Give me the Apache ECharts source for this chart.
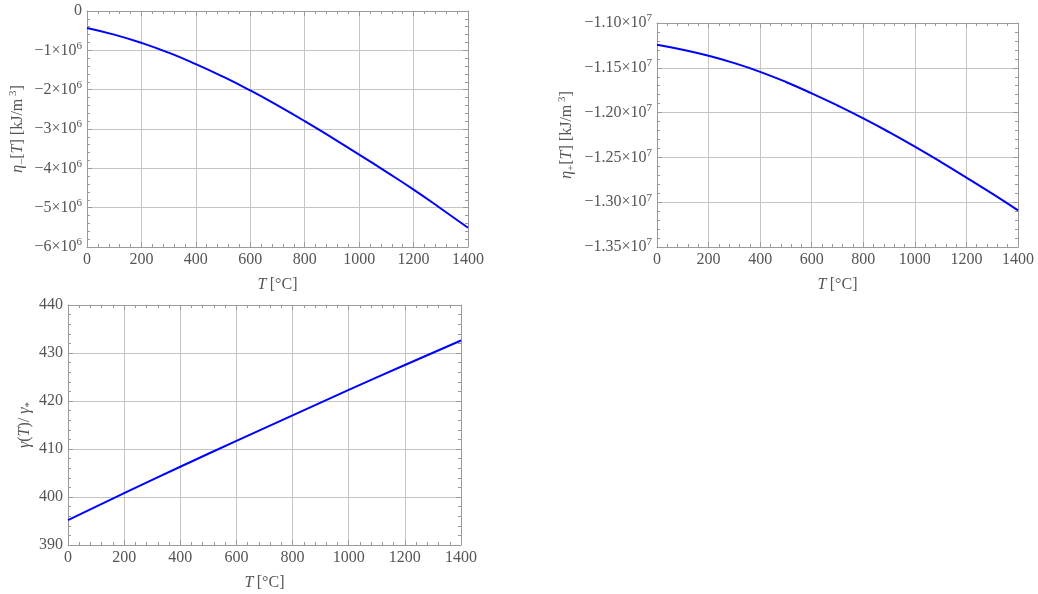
<!DOCTYPE html>
<html>
<head>
<meta charset="utf-8">
<script src="https://cdn.jsdelivr.net/npm/echarts@6/dist/echarts.min.js"></script>
<style>
html,body{margin:0;padding:0;background:#fff;}
#c{width:1038px;height:594px;}
</style>
</head>
<body>
<div id="c"></div>
<script>
// ---- data ----
const T100 = [0,100,200,300,400,500,600,700,800,900,1000,1100,1200,1300,1400];
const etaMinus = [-0.43e6,-0.60e6,-0.81e6,-1.06e6,-1.35e6,-1.67e6,-2.02e6,-2.40e6,-2.80e6,-3.22e6,-3.65e6,-4.09e6,-4.54e6,-5.02e6,-5.51e6];
const etaPlus = [-1.1242e7,-1.1298e7,-1.1366e7,-1.1448e7,-1.1545e7,-1.1658e7,-1.1785e7,-1.1921e7,-1.2065e7,-1.2218e7,-1.2380e7,-1.2549e7,-1.2725e7,-1.2905e7,-1.3091e7];
const T200 = [0,200,400,600,800,1000,1200,1400];
const gammaRatio = [395.2,400.8,406.3,411.7,417.0,422.3,427.5,432.6];
const xTicks = [0,200,400,600,800,1000,1200,1400];

const FONT = 'Liberation Serif';
const TXT = '#555';
const FRAME = '#9a9a9a';
const GRIDC = '#c4c4c4';

const rich = {
  a:{fontFamily:FONT,fontSize:16,color:TXT,lineHeight:20},
  s:{fontFamily:FONT,fontSize:11,color:TXT,verticalAlign:'top',lineHeight:20},
  i:{fontFamily:FONT,fontSize:16,color:TXT,fontStyle:'italic',lineHeight:20},
  sub:{fontFamily:FONT,fontSize:11,color:TXT,verticalAlign:'bottom',lineHeight:18},
  sup:{fontFamily:FONT,fontSize:11,color:TXT,verticalAlign:'top',lineHeight:20}
};

const grids = [
  {left:87, top:11, width:381, height:236},
  {left:657, top:23, width:361, height:224},
  {left:68, top:305, width:393, height:240}
];

function xAxes(gi){
  return [
    {type:'value',gridIndex:gi,min:0,max:1400,interval:200,position:'bottom',
     name:'{i|T} {a|[°C]}',nameLocation:'middle',nameGap:28,nameTextStyle:{rich:rich},
     axisLine:{show:true,onZero:false,lineStyle:{color:FRAME}},
     axisTick:{show:true,inside:true,length:5,lineStyle:{color:FRAME}},
     minorTick:{show:true,splitNumber:5,length:3,lineStyle:{color:FRAME}},
     axisLabel:{fontFamily:FONT,fontSize:16,color:TXT,margin:5,showMinLabel:true,showMaxLabel:true,
                formatter:v=>String(v)},
     splitLine:{show:true,lineStyle:{color:GRIDC,width:1}}},
    {type:'value',gridIndex:gi,min:0,max:1400,interval:200,position:'top',
     axisLine:{show:true,onZero:false,lineStyle:{color:FRAME}},
     axisTick:{show:true,inside:true,length:5,lineStyle:{color:FRAME}},
     minorTick:{show:true,splitNumber:5,length:3,lineStyle:{color:FRAME}},
     axisLabel:{show:false},splitLine:{show:false}}
  ];
}
function yAxes(gi,min,max,interval,fmt,name,gap){
  return [
    {type:'value',gridIndex:gi,min:min,max:max,interval:interval,position:'left',
     name:name,nameLocation:'middle',nameGap:gap,nameRotate:90,nameTextStyle:{rich:rich},
     axisLine:{show:true,onZero:false,lineStyle:{color:FRAME}},
     axisTick:{show:true,inside:true,length:5,lineStyle:{color:FRAME}},
     minorTick:{show:true,splitNumber:5,length:3,lineStyle:{color:FRAME}},
     axisLabel:{formatter:fmt,rich:rich,margin:5,fontFamily:FONT,fontSize:16,color:TXT},
     splitLine:{show:true,lineStyle:{color:GRIDC,width:1}}},
    {type:'value',gridIndex:gi,min:min,max:max,interval:interval,position:'right',
     axisLine:{show:true,onZero:false,lineStyle:{color:FRAME}},
     axisTick:{show:true,inside:true,length:5,lineStyle:{color:FRAME}},
     minorTick:{show:true,splitNumber:5,length:3,lineStyle:{color:FRAME}},
     axisLabel:{show:false},splitLine:{show:false}}
  ];
}

const fmt1 = v => v===0 ? '{a|0}' : '{a|−'+Math.round(-v/1e6)+'×10}{s|6}';
const fmt2 = v => '{a|−'+(-v/1e7).toFixed(2)+'×10}{s|7}';
const fmt3 = v => '{a|'+v+'}';

const option = {
  animation:false,
  backgroundColor:'#fff',
  grid:grids,
  xAxis:[...xAxes(0),...xAxes(1),...xAxes(2)],
  yAxis:[
    ...yAxes(0,-6e6,0,1e6,fmt1,'{i|η}{sub|−}{a|[}{i|T}{a|] [kJ/m}{sup| 3}{a|]}',59),
    ...yAxes(1,-1.35e7,-1.10e7,5e5,fmt2,'{i|η}{sub|+}{a|[}{i|T}{a|] [kJ/m}{sup| 3}{a|]}',80),
    ...yAxes(2,390,440,10,fmt3,'{i|γ}{a|(}{i|T}{a|)/ }{i|γ}{sub|*}',32)
  ],
  series:[
    {type:'line',xAxisIndex:0,yAxisIndex:0,data:T100.map((t,k)=>[t,etaMinus[k]]),smooth:true,showSymbol:false,lineStyle:{color:'#0000ff',width:2}},
    {type:'line',xAxisIndex:2,yAxisIndex:2,data:T100.map((t,k)=>[t,etaPlus[k]]),smooth:true,showSymbol:false,lineStyle:{color:'#0000ff',width:2}},
    {type:'line',xAxisIndex:4,yAxisIndex:4,data:T200.map((t,k)=>[t,gammaRatio[k]]),smooth:true,showSymbol:false,lineStyle:{color:'#0000ff',width:2}}
  ]
};
const chart = echarts.init(document.getElementById('c'),null,{renderer:'canvas'});
chart.setOption(option);
</script>
</body>
</html>
